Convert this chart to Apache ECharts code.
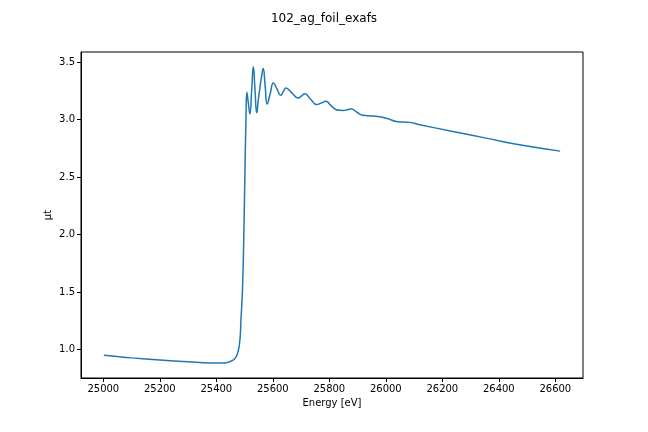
<!DOCTYPE html>
<html>
<head>
<meta charset="utf-8">
<script src="https://cdn.jsdelivr.net/npm/echarts@6/dist/echarts.min.js"></script>
<style>
  html, body { margin: 0; padding: 0; background: #fff; }
  #chartDiv { width: 648px; height: 432px; }
</style>
</head>
<body>
<div id="chartDiv"></div>
<script>
// 数据
var energy = [
    25002, 25050, 25100, 25200, 25300, 25380, 25420, 25440, 25455, 25465,
    25472, 25477, 25481, 25485, 25487, 25490, 25493, 25497, 25501, 25505,
    25508, 25513, 25519, 25525, 25531, 25537, 25543, 25549, 25555, 25560,
    25566, 25573, 25580, 25591, 25602, 25615, 25628, 25637, 25646, 25668,
    25690, 25702, 25713, 25734, 25755, 25772, 25788, 25806, 25825, 25837,
    25849, 25863, 25878, 25898, 25919, 25945, 25972, 26005, 26037, 26060,
    26084, 26120, 26237, 26355, 26473, 26617
];
var mu = [
    0.952, 0.940, 0.929, 0.911, 0.895, 0.885, 0.884, 0.890, 0.904, 0.922,
    0.948, 0.985, 1.03, 1.13, 1.25, 1.38, 1.55, 1.95, 2.50, 3.00,
    3.24, 3.15, 3.05, 3.25, 3.46, 3.26, 3.06, 3.18, 3.29, 3.37,
    3.445, 3.29, 3.137, 3.23, 3.32, 3.266, 3.212, 3.244, 3.276, 3.232,
    3.189, 3.207, 3.225, 3.178, 3.132, 3.146, 3.160, 3.123, 3.087, 3.082,
    3.081, 3.087, 3.093, 3.065, 3.038, 3.033, 3.029, 3.01, 2.985, 2.980,
    2.977, 2.957, 2.898, 2.840, 2.782, 2.727
];
var xTicks = [25000, 25200, 25400, 25600, 25800, 26000, 26200, 26400, 26600];
var yTicks = [1.0, 1.5, 2.0, 2.5, 3.0, 3.5];

var points = [];
for (var i = 0; i < energy.length; i++) {
    points.push([energy[i], mu[i]]);
}

// 初始化图表
var myChart = echarts.init(document.getElementById('chartDiv'));

var axisText = {
    color: '#000',
    fontFamily: 'DejaVu Sans',
    fontSize: 10
};

var option = {
    backgroundColor: '#fff',
    animation: false,
    title: {
        text: '102_ag_foil_exafs',
        left: 'center',
        top: 8,
        textStyle: {
            color: '#000',
            fontFamily: 'DejaVu Sans',
            fontSize: 12,
            fontWeight: 'normal'
        }
    },
    grid: {
        left: 81,
        right: 65,
        top: 52,
        bottom: 54,
        show: true,
        borderColor: '#000',
        borderWidth: 1
    },
    xAxis: {
        type: 'value',
        min: 24921,
        max: 26698,
        name: 'Energy [eV]',
        nameLocation: 'middle',
        nameGap: 20,
        nameMoveOverlap: false,
        nameTextStyle: axisText,
        splitLine: { show: false },
        axisLine: { show: true, lineStyle: { color: '#000', width: 1 } },
        axisTick: {
            show: true,
            inside: false,
            length: 4,
            customValues: xTicks,
            lineStyle: { color: '#000' }
        },
        axisLabel: {
            customValues: xTicks,
            margin: 6,
            color: '#000',
            fontFamily: 'DejaVu Sans',
            fontSize: 10,
            formatter: function (v) { return String(v); }
        }
    },
    yAxis: {
        type: 'value',
        min: 0.754,
        max: 3.589,
        name: 'μt',
        nameLocation: 'middle',
        nameGap: 28,
        nameMoveOverlap: false,
        nameTextStyle: axisText,
        splitLine: { show: false },
        axisLine: { show: true, lineStyle: { color: '#000', width: 1 } },
        axisTick: {
            show: true,
            inside: false,
            length: 4,
            customValues: yTicks,
            lineStyle: { color: '#000' }
        },
        axisLabel: {
            customValues: yTicks,
            margin: 6,
            color: '#000',
            fontFamily: 'DejaVu Sans',
            fontSize: 10,
            formatter: function (v) { return v.toFixed(1); }
        }
    },
    series: [{
        type: 'line',
        data: points,
        showSymbol: false,
        smooth: 0.5,
        lineStyle: { color: '#1f77b4', width: 1.5 },
        itemStyle: { color: '#1f77b4' }
    }]
};
myChart.setOption(option);
</script>
</body>
</html>
